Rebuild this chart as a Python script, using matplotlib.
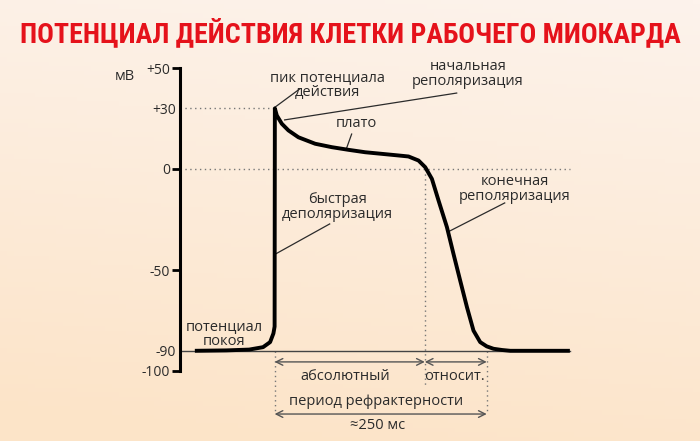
import numpy as np
import matplotlib.pyplot as plt
from matplotlib import font_manager

# action potential curve, time in ms (0 = upstroke), voltage in mV
t_ms = [-94, -57, -30, -13.6, -5.3, -1.4, 0, 0.3, 2.6, 8.5, 16.3, 28.1, 47.8,
        67.5, 87.0, 106.7, 126.4, 146.0, 157.8, 169.6, 177.5, 185.4, 193.2,
        203.1, 210.8, 218.7, 226.7, 234.4, 242.3, 250, 258.0, 268, 277.7,
        309, 348]
v_mv = [-90, -89.8, -89.4, -88.2, -85.7, -81.4, -78, 30, 26.5, 22.4, 19.1,
        15.7, 12.5, 10.8, 9.5, 8.3, 7.5, 6.7, 6.2, 4.2, 0.9, -4.9, -15.6,
        -28.8, -42.0, -55.2, -68.4, -80.0, -85.7, -87.8, -89.0, -89.6, -90,
        -90, -90]

major_ticks = [50, 0, -50, -100]
major_labels = ['+50', '0', '-50', '-100']
minor_ticks = [30, -90]
minor_labels = ['+30', '-90']

rest_mv = -90
peak_mv = 30
abs_start, abs_end, rel_end = 0, 177, 250   # refractory periods, ms

names = [f.name for f in font_manager.fontManager.ttflist]
title_font = 'Roboto'
for cand in ['Liberation Sans Narrow', 'Roboto Condensed', 'Open Sans Condensed']:
    if cand in names:
        title_font = cand
        break
body = ['Open Sans', 'DejaVu Sans']
ink = '#2b2b2b'

fig = plt.figure(figsize=(7, 4.41), dpi=100)

# peach background gradient
bg = fig.add_axes([0, 0, 1, 1], zorder=-1)
gy, gx = np.mgrid[0:1:100j, 0:1:100j]
c_top = np.array([253, 243, 236]) / 255
c_bot = np.array([252, 228, 200]) / 255
w = np.clip(gy * 0.9 + (1 - gx) * 0.15, 0, 1)[..., None]
bg.imshow(c_top * (1 - w) + c_bot * w, aspect='auto', extent=[0, 1, 0, 1])
bg.axis('off')

title = fig.text(0.5, 1 - 33 / 441, 'ПОТЕНЦИАЛ ДЕЙСТВИЯ КЛЕТКИ РАБОЧЕГО МИОКАРДА',
                 ha='center', va='center', color='#e5121b', fontsize=19,
                 fontweight='bold', family=title_font)
# size the title so it spans about the same width as the reference (~658 px)
renderer = fig.canvas.get_renderer()
tw = title.get_window_extent(renderer).width
title.set_fontsize(19 * 658 / tw)

ax = fig.add_axes([180 / 700, 1 - 371 / 441, 420 / 700, 303 / 441])
ax.patch.set_alpha(0)
ax.set_xlim(-111.5, 383.5)
ax.set_ylim(-100, 50)
for s in ['top', 'right', 'bottom']:
    ax.spines[s].set_visible(False)
ax.spines['left'].set_linewidth(2.2)
ax.set_xticks([])
ax.set_yticks(major_ticks, labels=major_labels)
ax.set_yticks(minor_ticks, labels=minor_labels, minor=True)
ax.tick_params(which='major', length=6, width=2, pad=1, labelsize=10, labelcolor=ink)
ax.tick_params(which='minor', length=0, pad=3, labelsize=10, labelcolor=ink)
for lab in ax.get_yticklabels() + ax.get_yticklabels(minor=True):
    lab.set_family(body)
ax.text(-177, 46, 'мВ', ha='center', va='center', fontsize=10.5, color=ink,
        family=body, clip_on=False)

# reference lines
dot = dict(color='#777777', lw=1, ls=(0, (1, 2.5)), clip_on=False)
ax.plot([-111.5, 0], [peak_mv, peak_mv], **dot)
ax.plot([-111.5, 348], [0, 0], **dot)
ax.plot([abs_end, abs_end], [0, -107], **dot)
ax.plot([abs_start, abs_start], [rest_mv, -121.5], **dot)
ax.plot([rel_end, rel_end], [rest_mv, -121.5], **dot)
ax.plot([-111.5, 348], [rest_mv, rest_mv], color='#444444', lw=1)

ax.plot(t_ms, v_mv, color='black', lw=2.8, solid_joinstyle='round',
        solid_capstyle='butt', zorder=3)

# leader lines and labels
def label(txt, x, y, x0=None, y0=None, x1=None, y1=None):
    ax.text(x, y, txt, ha='center', va='center', fontsize=10.5, color=ink,
            family=body, linespacing=0.92, clip_on=False)
    if x0 is not None:
        ax.plot([x0, x1], [y0, y1], color=ink, lw=0.9)

label('пик потенциала\nдействия', 62.5, 41.6, 0.8, 30.7, 29.5, 39.6)
label('начальная\nреполяризация', 227.6, 47, 11.8, 24.3, 214.6, 37.6)
label('плато', 96.7, 22.3, 90.8, 17.3, 84.9, 10.4)
label('быстрая\nдеполяризация', 74.3, -18.8, 1.0, -42.1, 64.9, -27.2)
label('конечная\nреполяризация', 283, -9.9, 206.4, -30.7, 271.2, -16.8)
label('потенциал\nпокоя', -59, -81.7)

arr = dict(arrowstyle='<->', color='#555555', lw=1, shrinkA=0, shrinkB=0,
           mutation_scale=12)
ax.annotate('', xy=(abs_start, -95.5), xytext=(abs_end, -95.5),
            arrowprops=arr, annotation_clip=False)
ax.annotate('', xy=(abs_end, -95.5), xytext=(rel_end, -95.5),
            arrowprops=arr, annotation_clip=False)
ax.annotate('', xy=(abs_start, -121.3), xytext=(rel_end, -121.3),
            arrowprops=arr, annotation_clip=False)
label('абсолютный', 83.7, -102.5)
label('относит.', 212, -102.5)
label('период рефрактерности', 119, -114.9)
label('≈250 мс', 121.5, -127.2)

fig.savefig('out.png', dpi=100)
